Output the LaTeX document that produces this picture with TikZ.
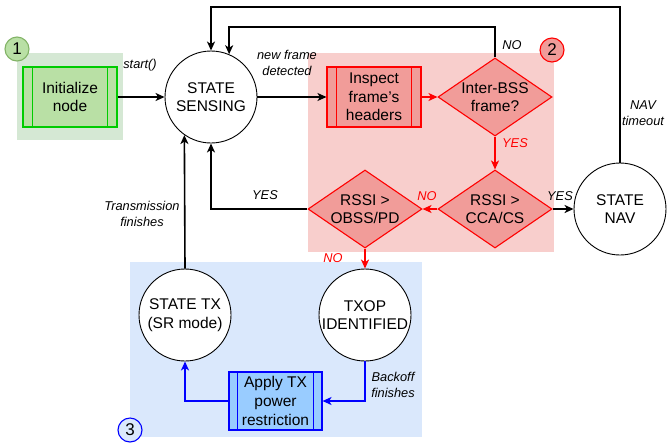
\documentclass[tikz,border=0pt]{standalone}
\usepackage{fontspec}
\setmainfont{Liberation Sans}
\usetikzlibrary{shapes.geometric,arrows.meta,calc}
\definecolor{gbg}{HTML}{D5E8D4}
\definecolor{gfill}{HTML}{B9E0A5}
\definecolor{gline}{HTML}{00CC00}
\definecolor{gnum}{HTML}{82B366}
\definecolor{rbg}{HTML}{F8CECC}
\definecolor{rfill}{HTML}{F19C99}
\definecolor{rline}{HTML}{FF0000}
\definecolor{bbg}{HTML}{DAE8FC}
\definecolor{bfill}{HTML}{99CCFF}
\definecolor{bline}{HTML}{0000FF}
\begin{document}
\begin{tikzpicture}[x=1pt,y=-1pt,
  main/.style={font=\fontsize{15.5}{18.6}\selectfont, align=center},
  lbl/.style={font=\fontsize{12.8}{16}\selectfont\itshape, align=center, inner sep=0},
  statenode/.style={circle, draw=black, line width=0.9pt, fill=white, minimum size=92pt, inner sep=-4pt, main},
  procbox/.style={rectangle, line width=1.1pt, minimum width=94pt, minimum height=60pt, inner sep=0, main},
  decision/.style={diamond, draw=rline, fill=rfill, line width=1.1pt, minimum width=114pt, minimum height=78pt, inner sep=0},
  numcirc/.style={circle, line width=1.1pt, minimum size=24pt, inner sep=0, font=\fontsize{17}{17}\selectfont},
  conn/.style={line width=1.6pt, -{Stealth[length=9pt,width=8pt,inset=2.5pt]}},
]
\useasboundingbox (0,0) rectangle (668,445);
% backgrounds
\fill[gbg] (17,53) rectangle (123,140);
\fill[rbg] (308,53) rectangle (554,252);
\fill[bbg] (130,262) rectangle (422,437);
\node[numcirc, draw=gnum, fill=gfill] (n1) at (17,49) {1};
\node[numcirc, draw=rline, fill=rfill] (n2) at (552,50) {2};
\node[numcirc, draw=bline, fill=bbg] (n3) at (130,430) {3};

% nodes
\node[procbox, draw=gline, fill=gfill] (init) at (70,97) {Initialize\\node};
\draw[gline, line width=1.1pt] ([xshift=10pt]init.north west) -- ([xshift=10pt]init.south west)
  ([xshift=-10pt]init.north east) -- ([xshift=-10pt]init.south east);
\node[statenode] (sense) at (211,97) {STATE\\SENSING};
\node[procbox, draw=rline, fill=rfill] (insp) at (374,97) {Inspect\\frame's\\headers};
\draw[rline, line width=1.1pt] ([xshift=10pt]insp.north west) -- ([xshift=10pt]insp.south west)
  ([xshift=-10pt]insp.north east) -- ([xshift=-10pt]insp.south east);
\node[decision, label={[main]center:Inter-BSS\\frame?}] (ibss) at (495,97) {};
\node[decision, label={[main]center:RSSI >\\CCA/CS}] (cca) at (495,209) {};
\node[decision, label={[main]center:RSSI >\\OBSS/PD}] (obss) at (365,209) {};
\node[statenode] (nav) at (620,209) {STATE\\NAV};
\node[statenode] (tx) at (185,315) {STATE TX\\(SR mode)};
\node[statenode] (txop) at (365,315) {TXOP\\IDENTIFIED};
\node[procbox, draw=bline, fill=bfill, minimum width=93pt, minimum height=58pt] (apply) at (275.5,401) {Apply TX\\power\\restriction};
\draw[bline, line width=1.1pt] ([xshift=9pt]apply.north west) -- ([xshift=9pt]apply.south west)
  ([xshift=-9pt]apply.north east) -- ([xshift=-9pt]apply.south east);

\coordinate (topA) at (400,7);
\coordinate (topB) at (400,27);

% connectors
\draw[conn] (init.east) -- (sense.west);
\draw[conn] (sense.east) -- (insp.west);
\draw[conn, rline] (insp.east) -- (ibss.west);
\draw[conn] (ibss.north) |- (topB) -| (sense.67);
\draw[conn] (nav.north) |- (topA) -| (sense.north);
\draw[conn, rline] (ibss.south) -- (cca.north);
\draw[conn, rline] (cca.west) -- (obss.east);
\draw[conn] (cca.east) -- (nav.west);
\draw[conn] (obss.west) -| (sense.south);
\draw[conn, rline] (obss.south) -- (txop.north);
\draw[conn, bline] (txop.south) |- (apply.east);
\draw[conn, bline] (apply.west) -| (tx.south);
\draw[conn] (tx.north) -- (sense.235.6);

% labels
\node[lbl] (lstart) at (140,65) {start()};
\node[lbl] (lnew) at (287,63) {new frame\\detected};
\node[lbl] (lno1) at (512,45) {NO};
\node[lbl, text=rline] (lyes1) at (515,143) {YES};
\node[lbl, text=rline] (lno2) at (427,196) {NO};
\node[lbl] (lyes2) at (560,196) {YES};
\node[lbl] (lyes3) at (265,195) {YES};
\node[lbl, text=rline] (lno3) at (333,258) {NO};
\node[lbl] (lnav) at (643,113) {NAV\\timeout};
\node[lbl] (lback) at (393,385) {Backoff\\finishes};
\node[lbl] (ltx) at (142,214) {Transmission\\finishes};
\end{tikzpicture}
\end{document}
